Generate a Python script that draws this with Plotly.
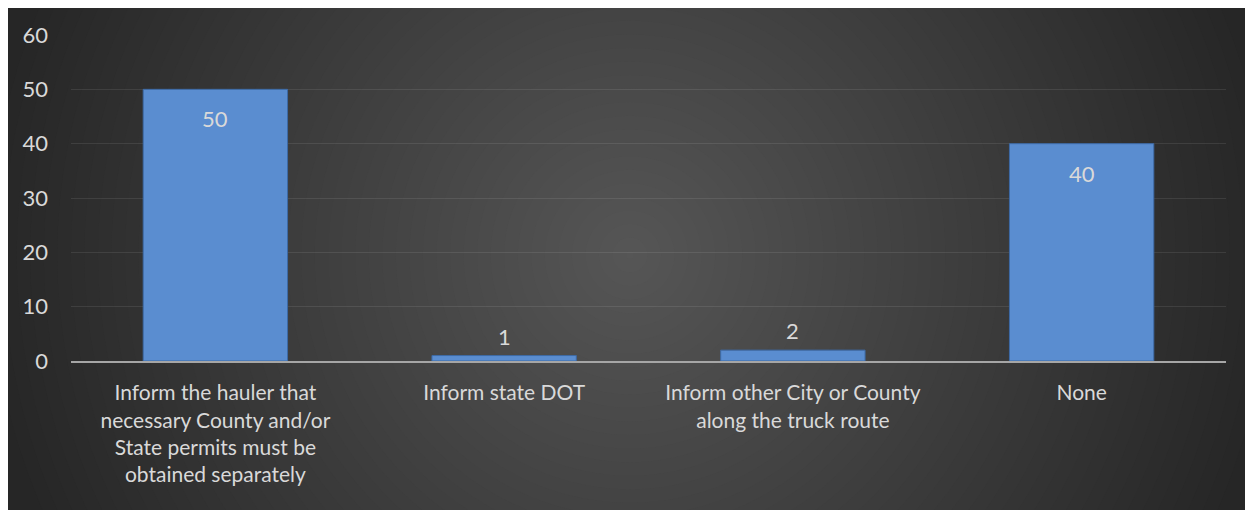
import plotly.graph_objects as go

# survey answers and counts
categories = [
    "Inform the hauler that necessary County and/or State permits must be obtained separately",
    "Inform state DOT",
    "Inform other City or County along the truck route",
    "None",
]
tick_labels = [
    "Inform the hauler that<br>necessary County and/or<br>State permits must be<br>obtained separately",
    "Inform state DOT",
    "Inform other City or County<br>along the truck route",
    "None",
]
counts = [50, 1, 2, 40]
y_ticks = [0, 10, 20, 30, 40, 50, 60]

FONT = "Lato, Calibri, sans-serif"
TEXT_COLOR = "#d9d9d9"

fig = go.Figure()
fig.add_trace(
    go.Bar(
        x=categories,
        y=counts,
        marker=dict(color="#5a8dd0", line=dict(color="#3d6aa6", width=1)),
        hoverinfo="x+y",
    )
)

# data labels: inside the end of tall bars, just above the short ones
annotations = []
for cat, c in zip(categories, counts):
    inside = c > 10
    annotations.append(dict(
        x=cat, y=c, xref="x", yref="y",
        text=str(c), showarrow=False,
        yanchor="top" if inside else "bottom",
        yshift=-14 if inside else 4,
        font=dict(family=FONT, size=22, color=TEXT_COLOR),
    ))

# dark radial-ish background: base colour + stacked circles getting lighter toward the centre
shapes = []
edge, centre, radius = 38, 86, 650
for g in range(edge + 1, centre + 1):
    r = radius * (centre - g) / (centre - edge) + 4
    col = "#{0:02x}{0:02x}{0:02x}".format(g)
    shapes.append(dict(
        type="circle", xref="paper", yref="paper",
        xsizemode="pixel", ysizemode="pixel",
        xanchor=0.484, yanchor=0.325,
        x0=-r, x1=r, y0=-r, y1=r,
        fillcolor=col, line=dict(width=0), layer="below",
    ))

fig.update_layout(
    width=1245,
    height=502,
    margin=dict(l=63, r=27, t=27, b=149),
    paper_bgcolor="#262626",
    plot_bgcolor="rgba(0,0,0,0)",
    bargap=0.5,
    showlegend=False,
    shapes=shapes,
    annotations=annotations,
    font=dict(family=FONT, size=21, color=TEXT_COLOR),
)
fig.update_xaxes(
    tickmode="array",
    tickvals=categories,
    ticktext=tick_labels,
    tickfont=dict(family=FONT, size=21, color=TEXT_COLOR),
    showline=True,
    linecolor="#a6a6a6",
    linewidth=2,
    showgrid=False,
    ticks="",
    ticklabelstandoff=12,
)
fig.update_yaxes(
    range=[0, 60],
    tickvals=y_ticks,
    tickfont=dict(family=FONT, size=22, color=TEXT_COLOR),
    gridcolor="rgba(255,255,255,0.09)",
    gridwidth=1,
    zeroline=False,
    showline=False,
    ticklabelstandoff=22,
)

fig.write_html("out.html")
